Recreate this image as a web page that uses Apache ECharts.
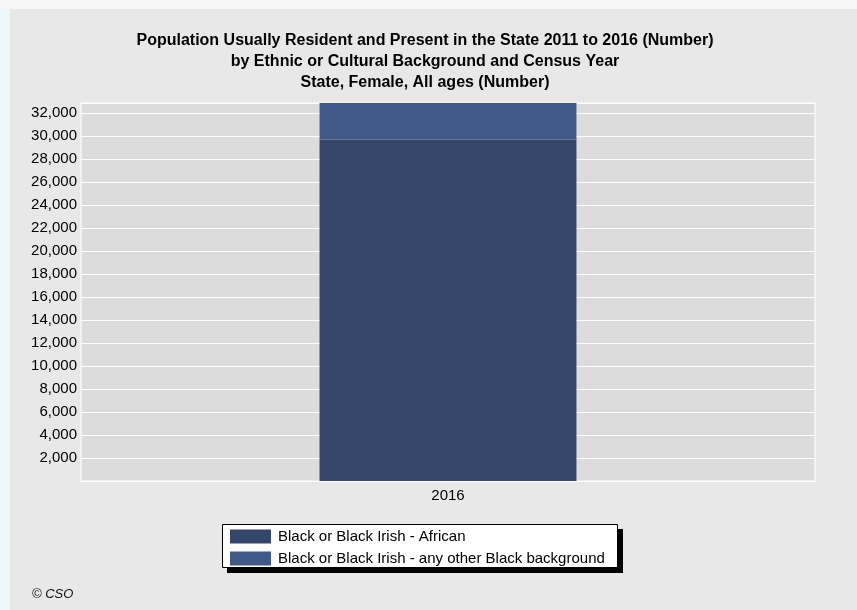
<!DOCTYPE html>
<html>
<head>
<meta charset="utf-8">
<script src="https://cdn.jsdelivr.net/npm/echarts@6/dist/echarts.min.js"></script>
<style>
html,body{margin:0;padding:0;background:#ffffff;}
#chart{width:857px;height:610px;}
</style>
</head>
<body>
<div id="chart"></div>
<script>
const categories = ['2016'];
const seriesNames = ['Black or Black Irish - African', 'Black or Black Irish - any other Black background'];
const african = [29650];
const otherBlack = [3200];
const seriesColors = ['#34466a', '#415a87'];
const titleLines = [
  'Population Usually Resident and Present in the State 2011 to 2016 (Number)',
  'by Ethnic or Cultural Background and Census Year',
  'State, Female, All ages (Number)'
];

const chart = echarts.init(document.getElementById('chart'), null, {renderer: 'canvas'});
const total = african[0] + otherBlack[0];
chart.setOption({
  backgroundColor: '#e8e8e8',
  animation: false,
  graphic: [
    {type: 'rect', shape: {x: 0, y: 0, width: 10, height: 610}, style: {fill: '#eef8fb'}, z: 100},
    {type: 'rect', shape: {x: 0, y: 0, width: 857, height: 9}, style: {fill: '#f6f6f6'}, z: 100},
    {type: 'rect', shape: {x: 227, y: 529, width: 396, height: 44}, style: {fill: '#000'}, z: 1},
    {type: 'rect', shape: {x: 222.5, y: 524.5, width: 395, height: 43}, style: {fill: '#fff', stroke: '#000', lineWidth: 1}, z: 2},
    {type: 'text', left: 32, top: 588, style: {text: '\u00a9 CSO', font: 'italic 13px "Liberation Sans", Arial, sans-serif', fill: '#111'}}
  ],
  title: {
    text: titleLines.join('\n'),
    left: 420,
    textAlign: 'center',
    top: 25,
    textStyle: {fontFamily: '"Liberation Sans", Arial, sans-serif', fontWeight: 'bold', fontSize: 16, lineHeight: 21, color: '#000'}
  },
  legend: {
    orient: 'vertical',
    left: 222,
    top: 525,
    padding: [4, 8, 4, 8],
    itemWidth: 41,
    itemHeight: 14,
    itemGap: 7,
    icon: 'rect',
    z: 10,
    textStyle: {fontFamily: '"Liberation Sans", Arial, sans-serif', fontSize: 15, color: '#000', padding: [0, 0, 0, 2]},
    data: seriesNames
  },
  grid: {left: 81, top: 103, right: 42, bottom: 129, show: true, backgroundColor: '#dcdcdc', borderColor: '#ffffff', borderWidth: 1, containLabel: false},
  xAxis: {
    type: 'category',
    data: categories,
    axisLine: {show: false},
    axisTick: {show: false},
    axisLabel: {fontFamily: '"Liberation Sans", Arial, sans-serif', fontSize: 15, color: '#000', margin: 7}
  },
  yAxis: {
    type: 'value',
    min: 0,
    max: total,
    interval: 2000,
    axisLine: {show: false},
    axisTick: {show: false},
    splitLine: {lineStyle: {color: '#ffffff', width: 1}},
    axisLabel: {
      fontFamily: '"Liberation Sans", Arial, sans-serif', fontSize: 15, color: '#000', margin: 4,
      formatter: function (v) { if (v === 0 || v % 2000 !== 0) return ''; return v.toLocaleString('en-US'); }
    }
  },
  series: [
    {name: seriesNames[0], type: 'bar', stack: 'a', data: african, barWidth: '35%', itemStyle: {color: seriesColors[0]}},
    {name: seriesNames[1], type: 'bar', stack: 'a', data: otherBlack, barWidth: '35%', itemStyle: {color: seriesColors[1]}}
  ]
});
</script>
</body>
</html>
